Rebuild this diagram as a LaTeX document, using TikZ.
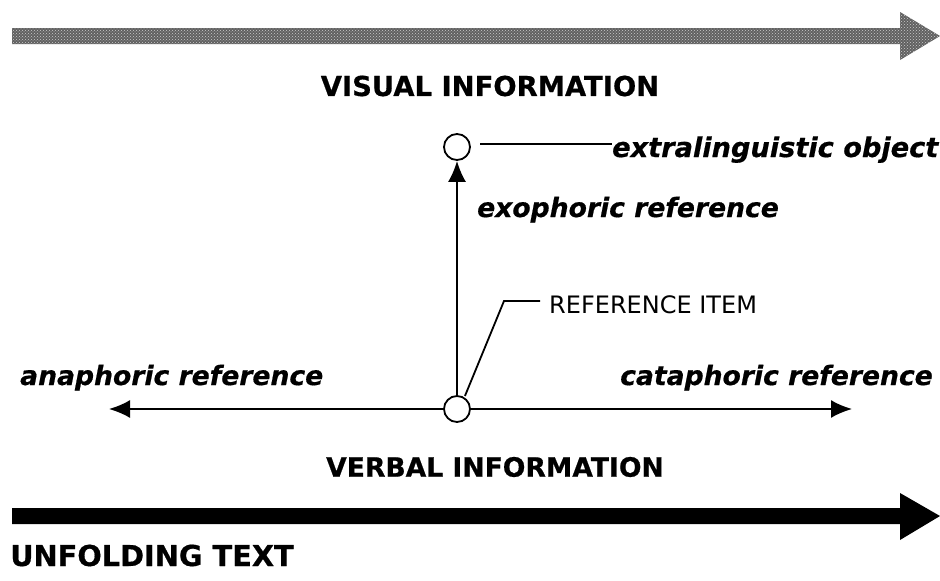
\documentclass[tikz,border=0pt]{standalone}
\usepackage{fontspec}
\setmainfont{DejaVu Sans}
\newfontfamily\heavy[FakeBold=0.6]{DejaVu Sans Bold}
\newfontfamily\heavyslant[FakeBold=0.6]{DejaVu Sans Bold Oblique}
\usetikzlibrary{arrows.meta,patterns}
\tikzset{
  title/.style={font=\fontsize{27.4}{30}\heavy, inner sep=0pt},
  label/.style={font=\fontsize{26.6}{30}\heavyslant, inner sep=0pt, anchor=base west},
  plain/.style={font=\fontsize{24}{28}\selectfont, inner sep=0pt, anchor=base west},
  refpoint/.style={circle, draw, line width=1.8pt, fill=white, minimum size=26pt, inner sep=0pt},
  link/.style={line width=1.8pt},
  ref arrow/.style={line width=1.8pt, -{Latex[length=21pt,width=18pt]}},
  band/.style={line join=miter}
}
\begin{document}
\begin{tikzpicture}[x=1pt,y=-1pt]
  \useasboundingbox (0,0) rectangle (940,581);

  % shaded band for visual information
  \path[band, fill=black!62] (12,28) -- (900,28) -- (900,12) -- (940,36) -- (900,60) -- (900,44) -- (12,44) -- cycle;
  \path[band, pattern=crosshatch dots, pattern color=white!80!black] (12,28) -- (900,28) -- (900,12) -- (940,36) -- (900,60) -- (900,44) -- (12,44) -- cycle;
  \node[title] (visual) at (490,86) {VISUAL INFORMATION};

  % solid band for the unfolding text
  \fill[band] (12,508) -- (900,508) -- (900,493) -- (940,516) -- (900,540) -- (900,524) -- (12,524) -- cycle;
  \node[title, font=\fontsize{28.8}{30}\heavy, anchor=base west] (unfold) at (10,566) {UNFOLDING TEXT};
  \node[title, font=\fontsize{26.6}{30}\heavy] (verbal) at (495,467) {VERBAL INFORMATION};

  % reference points
  \node[refpoint] (obj) at (457,147) {};
  \node[refpoint] (item) at (457,409) {};
  \coordinate (ana) at (109,409);
  \coordinate (cata) at (852,409);

  \draw[ref arrow] (item) -- (obj);
  \draw[ref arrow] (item) -- (ana);
  \draw[ref arrow] (item) -- (cata);

  % labels
  \node[label, font=\fontsize{27.2}{30}\heavyslant] (objlbl) at (612,157) {extralinguistic object};
  \node[label] (exo) at (477,217) {exophoric reference};
  \node[label] (analbl) at (20,385) {anaphoric reference};
  \node[label] (catalbl) at (620,385) {cataphoric reference};
  \node[plain] (itemlbl) at (549,313) {REFERENCE ITEM};

  % leader lines
  \coordinate (objlead) at (480,144);
  \draw[link] (objlead) -- (objlbl.west |- objlead);
  \coordinate (itembend) at (504,301);
  \coordinate (itemend) at (540,301);
  \draw[link] (item.60) ++(1,-1) -- (itembend) -- (itemend);
\end{tikzpicture}
\end{document}
